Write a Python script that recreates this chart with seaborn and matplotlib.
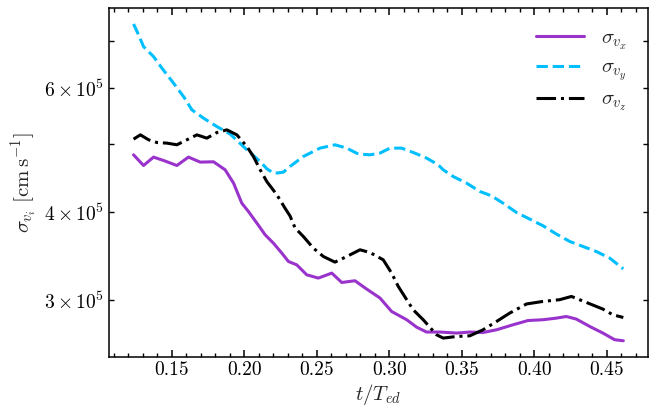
import numpy as np
import pandas as pd
import matplotlib
matplotlib.use("Agg")
import matplotlib.pyplot as plt
import seaborn as sns

# ---- data (sigma in units of 1e5 cm/s) ----
t_x = [0.1235, 0.1304, 0.1373, 0.1442, 0.1534, 0.1614, 0.1695, 0.1787, 0.1867,
       0.1925, 0.1982, 0.2028, 0.2086, 0.2143, 0.2200, 0.2258, 0.2304, 0.2361,
       0.2430, 0.2510, 0.2603, 0.2672, 0.2763, 0.2844, 0.2936, 0.3016, 0.3120,
       0.3188, 0.3257, 0.3349, 0.3464, 0.3556, 0.3647, 0.3740, 0.3854, 0.3958,
       0.4061, 0.4153, 0.4222, 0.4291, 0.4383, 0.4474, 0.4555, 0.4615]
sig_x = [4.826, 4.660, 4.790, 4.737, 4.660, 4.790, 4.712, 4.717, 4.595,
         4.399, 4.119, 4.008, 3.859, 3.714, 3.614, 3.498, 3.403, 3.366,
         3.258, 3.223, 3.276, 3.177, 3.195, 3.109, 3.019, 2.889, 2.812,
         2.745, 2.701, 2.701, 2.692, 2.701, 2.697, 2.721, 2.766, 2.805,
         2.812, 2.827, 2.842, 2.818, 2.751, 2.692, 2.634, 2.625]

t_y = [0.1235, 0.1270, 0.1304, 0.1373, 0.1431, 0.1511, 0.1580, 0.1638, 0.1718,
       0.1810, 0.1902, 0.2017, 0.2109, 0.2155, 0.2200, 0.2224, 0.2269, 0.2315,
       0.2407, 0.2522, 0.2625, 0.2706, 0.2786, 0.2867, 0.2936, 0.3005, 0.3085,
       0.3165, 0.3257, 0.3337, 0.3372, 0.3441, 0.3533, 0.3625, 0.3705, 0.3785,
       0.3878, 0.3969, 0.4061, 0.4153, 0.4245, 0.4337, 0.4429, 0.4521, 0.4615]
sig_y = [7.407, 7.146, 6.878, 6.657, 6.409, 6.102, 5.840, 5.591, 5.441,
         5.294, 5.165, 4.906, 4.720, 4.610, 4.546, 4.546, 4.560, 4.645,
         4.800, 4.933, 4.987, 4.933, 4.838, 4.826, 4.853, 4.933, 4.933,
         4.863, 4.775, 4.671, 4.595, 4.495, 4.399, 4.280, 4.220, 4.119,
         3.995, 3.910, 3.825, 3.723, 3.634, 3.574, 3.516, 3.441, 3.322]

t_z = [0.1235, 0.1282, 0.1339, 0.1397, 0.1466, 0.1534, 0.1603, 0.1672, 0.1741,
       0.1810, 0.1879, 0.1948, 0.2017, 0.2062, 0.2109, 0.2155, 0.2224, 0.2281,
       0.2315, 0.2350, 0.2407, 0.2476, 0.2545, 0.2625, 0.2706, 0.2798, 0.2867,
       0.2958, 0.3016, 0.3062, 0.3120, 0.3165, 0.3234, 0.3326, 0.3372, 0.3464,
       0.3556, 0.3647, 0.3740, 0.3831, 0.3947, 0.4061, 0.4176, 0.4257, 0.4360,
       0.4474, 0.4543, 0.4615]
sig_z = [5.080, 5.152, 5.069, 5.024, 5.014, 4.987, 5.069, 5.152, 5.097,
         5.191, 5.237, 5.152, 4.959, 4.800, 4.595, 4.420, 4.234, 4.050,
         3.950, 3.797, 3.693, 3.555, 3.459, 3.396, 3.459, 3.536, 3.504,
         3.422, 3.276, 3.136, 3.003, 2.905, 2.812, 2.677, 2.648, 2.662,
         2.668, 2.721, 2.796, 2.874, 2.961, 2.986, 3.003, 3.035, 2.976,
         2.912, 2.858, 2.833]

labels = [r'$\sigma_{v_x}$', r'$\sigma_{v_y}$', r'$\sigma_{v_z}$']
colors = ['#9933CC', '#00BFFF', '#000000']
styles = ['-', '--', '-.']

sns.set_style("ticks")
plt.rcParams.update({
    'font.family': 'serif',
    'font.serif': ['cmr10', 'DejaVu Serif'],
    'mathtext.fontset': 'cm',
    'axes.formatter.use_mathtext': True,
    'axes.unicode_minus': False,
    'xtick.direction': 'in',
    'ytick.direction': 'in',
    'xtick.top': True,
    'ytick.right': True,
    'axes.edgecolor': 'black',
    'axes.linewidth': 1.1,
})

fig = plt.figure(figsize=(6.57, 4.08), dpi=100)
ax = fig.add_axes([0.166, 0.126, 0.820, 0.854])

series = [(t_x, sig_x), (t_y, sig_y), (t_z, sig_z)]
for (t, s), lab, c, ls in zip(series, labels, colors, styles):
    df = pd.DataFrame({'t': t, 'sigma': np.array(s) * 1e5})
    sns.lineplot(data=df, x='t', y='sigma', ax=ax, color=c, linestyle=ls,
                 linewidth=2.2, label=lab, sort=False)

ax.set_yscale('log')
ax.set_xticks([0.15, 0.20, 0.25, 0.30, 0.35, 0.40, 0.45])
ax.xaxis.set_minor_locator(matplotlib.ticker.MultipleLocator(0.01))
ax.xaxis.set_major_formatter(matplotlib.ticker.FormatStrFormatter('%.2f'))
ax.tick_params(which='major', length=5, width=1.1, labelsize=14, colors='black')
ax.tick_params(which='minor', length=3, width=1.0, labelsize=14, colors='black')
ax.tick_params(axis='y', which='minor', length=3.5)

ax.set_xlabel(r'$t/T_{ed}$', fontsize=15, labelpad=2)
ax.set_ylabel(r'$\sigma_{v_i}\ [\mathrm{cm\,s^{-1}}]$', fontsize=15, labelpad=4)

ax.legend(loc='upper right', frameon=False, fontsize=15, handlelength=2.3,
          handletextpad=0.8, labelspacing=0.35, borderaxespad=0.6)

fig.savefig('out.png', dpi=100)
